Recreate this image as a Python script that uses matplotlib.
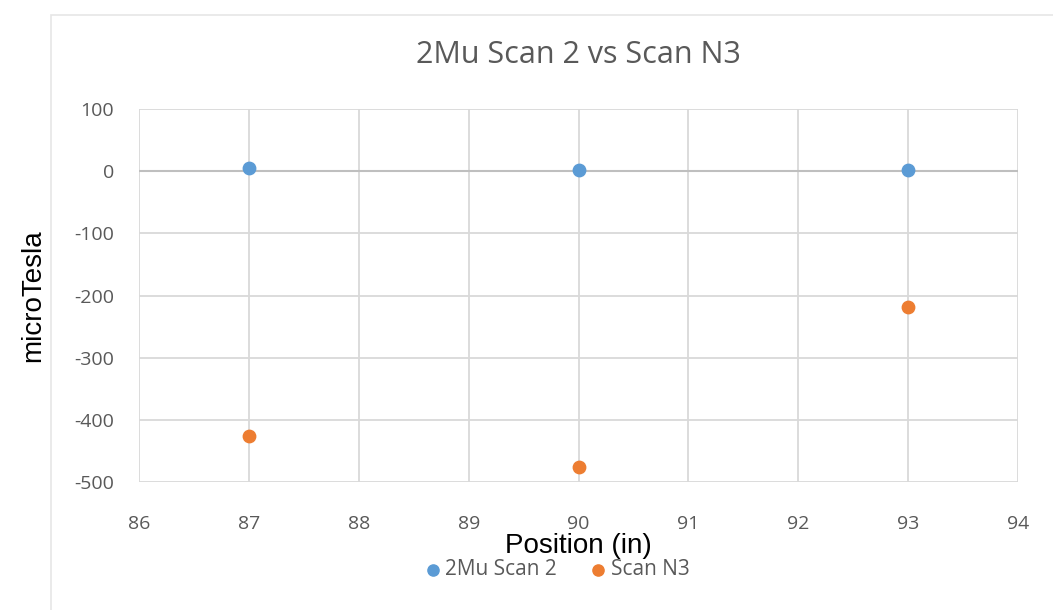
import matplotlib.pyplot as plt
from matplotlib.patches import Rectangle

# Data
positions = [87, 90, 93]
scan2_values = [5, 2, 2]
scan_n3_values = [-426, -476, -219]

blue = "#5b9bd5"
orange = "#ed7d31"
grey_text = "#595959"
grid_col = "#d9d9d9"

plt.rcParams["axes.unicode_minus"] = False

fig = plt.figure(figsize=(10.53, 6.10), dpi=100)
ax = fig.add_axes([0.132, 0.2098, 0.8348, 0.6115])

# light outer frame of the chart area
fig.patches.append(Rectangle((0.048, -0.01), 0.96, 0.985, transform=fig.transFigure,
                             fill=False, edgecolor="#e6e6e6", linewidth=1.2))

ax.scatter(positions, scan2_values, s=80, color=blue, label="2Mu Scan 2", zorder=3)
ax.scatter(positions, scan_n3_values, s=80, color=orange, label="Scan N3", zorder=3)

ax.set_xlim(86, 94)
ax.set_ylim(-500, 100)
ax.set_xticks(range(86, 95))
ax.set_yticks(range(-500, 101, 100))
ax.grid(True, color=grid_col, linewidth=1.3)
ax.axhline(0, color="#bfbfbf", linewidth=1.5, zorder=2)
for s in ax.spines.values():
    s.set_visible(False)
ax.tick_params(length=0, labelsize=14, labelcolor=grey_text)
ax.tick_params(axis="x", pad=24)
ax.tick_params(axis="y", pad=18)
for lbl in ax.get_xticklabels() + ax.get_yticklabels():
    lbl.set_family("Open Sans")

ax.set_title("2Mu Scan 2 vs Scan N3", fontsize=22, color=grey_text,
             family="Open Sans", pad=33)
ax.set_xlabel("Position (in)", fontsize=20, family="Liberation Sans", labelpad=0)
ax.set_ylabel("microTesla", fontsize=20, family="Liberation Sans", labelpad=20)

leg = fig.legend(loc="center", bbox_to_anchor=(0.523, 0.066), ncol=2, frameon=False,
                 handletextpad=-0.4, columnspacing=1.0, markerscale=0.9,
                 prop={"family": "Open Sans", "size": 15})
for t in leg.get_texts():
    t.set_color(grey_text)

fig.savefig("out.png", dpi=100)
